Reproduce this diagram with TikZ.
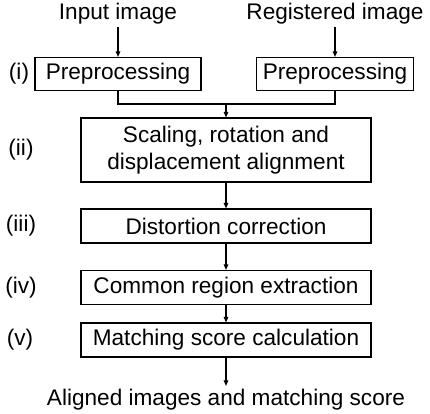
\documentclass[tikz,border=0pt]{standalone}
\usepackage{fontspec}
\setmainfont{Liberation Sans}
\usetikzlibrary{arrows.meta}

\begin{document}
\begin{tikzpicture}[x=1pt,y=-1pt,
  every node/.style={font=\fontsize{22.6}{27}\selectfont},
  box/.style={draw, line width=1.1pt, inner sep=0pt, align=center, minimum width=290pt, minimum height=34pt},
  plain/.style={inner sep=2pt},
  flow/.style={line width=1.1pt},
  arr/.style={flow, -{Triangle[length=5.5pt,width=4.5pt]}}]
\useasboundingbox (0,0) rectangle (430,413);

% inputs
\node[plain] (in)  at (118,14) {Input image};
\node[plain] (reg) at (335,14) {Registered image};

% step (i)
\node[box, minimum width=166pt, minimum height=33pt] (pre1) at (118,74) {Preprocessing};
\node[box, minimum width=157pt, minimum height=33pt] (pre2) at (335,74) {Preprocessing};

% steps (ii)--(v)
\node[box, minimum height=64pt] (align)  at (226,150) {Scaling, rotation and\\displacement alignment};
\node[box] (dist)   at (226,226) {Distortion correction};
\node[box] (common) at (226,287.5) {Common region extraction};
\node[box] (match)  at (226,340) {Matching score calculation};

% result
\node[plain, anchor=base, inner sep=3pt] (out) at (226,405.5) {Aligned images and matching score};

% step labels
\node (li)   at (19,74)    {(i)};
\node (lii)  at (21,150)   {(ii)};
\node (liii) at (21,226)   {(iii)};
\node (liv)  at (21,287.5) {(iv)};
\node (lv)   at (20,340)   {(v)};

% connectors
\coordinate (join) at (226,104);
\draw[arr] (in.south) -- (pre1.north);
\draw[arr] (reg.south) -- (pre2.north);
\draw[flow] (pre1.south) |- (join);
\draw[flow] (pre2.south) |- (join);
\draw[arr] (join) -- (align.north);
\draw[arr] (align.south) -- (dist.north);
\draw[arr] (dist.south) -- (common.north);
\draw[arr] (common.south) -- (match.north);
\draw[arr] (match.south) -- (out.north);
\end{tikzpicture}
\end{document}
